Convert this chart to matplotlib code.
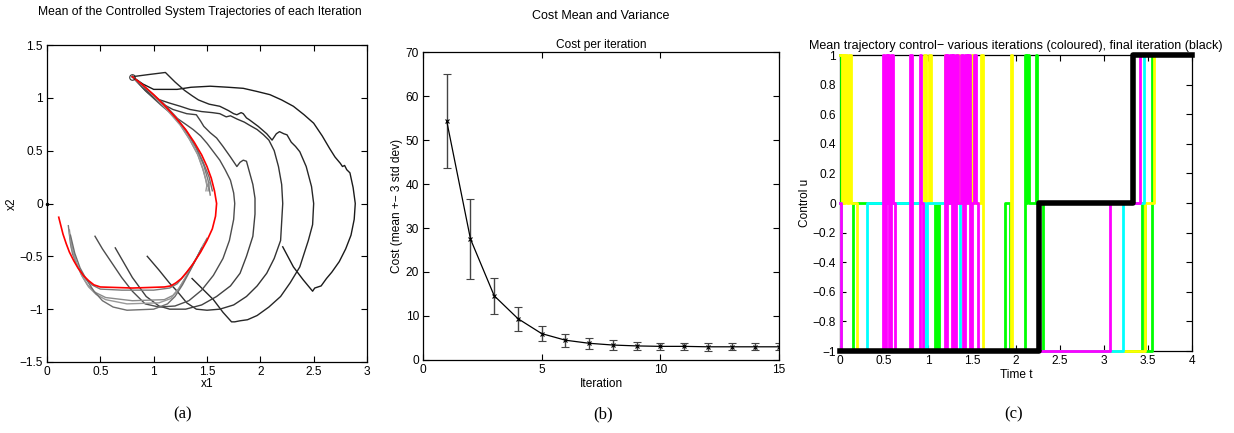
import numpy as np
import matplotlib
matplotlib.use('Agg')
import matplotlib.pyplot as plt

plt.rcParams['font.family'] = ['Liberation Sans', 'DejaVu Sans']
plt.rcParams['font.size'] = 8.6

# ---- panel (a): mean trajectories (x1, x2) per iteration ----
start_pt = (0.80, 1.20)

# dark trajectories, outer -> inner
traj_b = [(0.80, 1.20), (0.90, 1.13), (1.00, 1.08), (1.10, 1.08), (1.22, 1.08), (1.35, 1.10), (1.53, 1.11),
          (1.70, 1.10), (1.84, 1.09), (1.97, 1.06), (2.09, 1.03), (2.20, 0.98), (2.31, 0.92), (2.41, 0.84),
          (2.50, 0.76), (2.58, 0.64), (2.65, 0.52), (2.70, 0.44), (2.75, 0.38), (2.77, 0.35), (2.79, 0.36),
          (2.81, 0.32), (2.84, 0.29), (2.87, 0.15), (2.89, 0.00), (2.88, -0.15), (2.85, -0.30), (2.80, -0.43),
          (2.74, -0.55), (2.67, -0.65), (2.62, -0.71), (2.57, -0.78), (2.54, -0.79), (2.51, -0.80),
          (2.49, -0.83), (2.40, -0.72), (2.31, -0.60), (2.21, -0.41)]
traj_a = [(0.80, 1.20), (0.95, 1.22), (1.11, 1.24), (1.20, 1.15), (1.29, 1.07), (1.36, 1.02), (1.42, 0.98),
          (1.52, 0.94), (1.62, 0.92), (1.70, 0.88), (1.75, 0.85), (1.78, 0.84), (1.82, 0.86), (1.84, 0.85),
          (1.87, 0.81), (1.90, 0.79), (1.98, 0.73), (2.06, 0.66), (2.11, 0.60), (2.15, 0.66), (2.18, 0.68),
          (2.22, 0.66), (2.25, 0.65), (2.29, 0.58), (2.33, 0.54), (2.37, 0.49), (2.43, 0.35), (2.48, 0.16),
          (2.50, 0.00), (2.49, -0.20), (2.45, -0.35), (2.37, -0.60), (2.28, -0.75), (2.19, -0.88),
          (2.08, -0.98), (1.97, -1.06), (1.88, -1.10), (1.81, -1.11), (1.76, -1.12), (1.73, -1.12),
          (1.65, -1.03), (1.56, -0.91), (1.46, -0.81), (1.36, -0.71)]
traj_d = [(0.80, 1.20), (0.92, 1.08), (1.03, 0.99), (1.15, 0.95), (1.25, 0.92), (1.34, 0.89), (1.45, 0.87),
          (1.55, 0.86), (1.62, 0.85), (1.68, 0.82), (1.72, 0.83), (1.78, 0.80), (1.85, 0.77), (1.90, 0.74),
          (1.97, 0.70), (2.03, 0.65), (2.08, 0.60), (2.13, 0.50), (2.17, 0.35), (2.20, 0.18), (2.21, 0.00),
          (2.19, -0.35), (2.13, -0.52), (2.06, -0.66), (1.97, -0.78), (1.87, -0.88), (1.75, -0.96),
          (1.62, -1.00), (1.50, -1.01), (1.40, -1.00), (1.31, -0.94), (1.22, -0.83), (1.15, -0.755),
          (1.05, -0.63), (0.94, -0.50)]
traj_e = [(0.80, 1.20), (0.92, 1.07), (1.05, 0.96), (1.18, 0.89), (1.31, 0.85), (1.40, 0.84), (1.44, 0.78),
          (1.47, 0.73), (1.53, 0.67), (1.59, 0.62), (1.65, 0.54), (1.72, 0.44), (1.78, 0.35), (1.81, 0.39),
          (1.84, 0.41), (1.87, 0.40), (1.90, 0.29), (1.93, 0.18), (1.95, 0.05), (1.95, -0.10), (1.93, -0.31),
          (1.87, -0.50), (1.81, -0.66), (1.72, -0.78), (1.59, -0.88), (1.45, -0.96), (1.30, -1.00),
          (1.15, -1.00), (1.05, -0.97), (0.93, -0.88), (0.80, -0.70), (0.72, -0.56), (0.64, -0.42)]
traj_f = [(0.80, 1.20), (0.93, 1.06), (1.07, 0.93), (1.20, 0.82), (1.30, 0.75), (1.37, 0.70), (1.44, 0.64),
          (1.50, 0.57), (1.56, 0.49), (1.62, 0.41), (1.67, 0.32), (1.72, 0.22), (1.75, 0.10), (1.76, 0.00),
          (1.75, -0.15), (1.71, -0.35), (1.65, -0.52), (1.56, -0.68), (1.45, -0.82), (1.33, -0.92),
          (1.20, -0.97), (1.05, -0.98), (0.92, -0.95), (0.80, -0.83), (0.70, -0.70), (0.60, -0.55),
          (0.52, -0.43), (0.45, -0.31)]
dark_trajs = [traj_b, traj_a, traj_d, traj_e, traj_f]
dark_cols = ['#1a1a1a', '#262626', '#333333', '#404040', '#4d4d4d']

# later iterations (grey), drawn as upper and lower pieces
grey_upper = [
    [(0.80, 1.20), (0.95, 1.07), (1.10, 0.93), (1.22, 0.80), (1.32, 0.66), (1.40, 0.52), (1.47, 0.36),
     (1.51, 0.22), (1.53, 0.08)],
    [(0.80, 1.20), (0.96, 1.06), (1.12, 0.90), (1.24, 0.76), (1.33, 0.62), (1.41, 0.47), (1.46, 0.33),
     (1.49, 0.22), (1.50, 0.16), (1.52, 0.20), (1.51, 0.12)],
    [(0.80, 1.20), (0.97, 1.05), (1.13, 0.88), (1.25, 0.74), (1.34, 0.60), (1.42, 0.45), (1.47, 0.30),
     (1.50, 0.18), (1.49, 0.12)],
    [(0.80, 1.20), (0.94, 1.08), (1.09, 0.95), (1.21, 0.82), (1.31, 0.68), (1.39, 0.55), (1.46, 0.40),
     (1.52, 0.25), (1.55, 0.12)],
]
grey_lower = [
    [(1.50, -0.33), (1.43, -0.47), (1.35, -0.60), (1.28, -0.69), (1.22, -0.76), (1.15, -0.80),
     (1.00, -0.82), (0.70, -0.82), (0.50, -0.81), (0.42, -0.77), (0.35, -0.70), (0.29, -0.60),
     (0.24, -0.48), (0.22, -0.38), (0.20, -0.21)],
    [(1.49, -0.35), (1.40, -0.52), (1.30, -0.70), (1.24, -0.80), (1.18, -0.87), (1.10, -0.91),
     (0.80, -0.92), (0.55, -0.89), (0.45, -0.84), (0.38, -0.77), (0.32, -0.67), (0.27, -0.55),
     (0.23, -0.42), (0.21, -0.25)],
    [(1.47, -0.38), (1.38, -0.56), (1.28, -0.73), (1.22, -0.83), (1.16, -0.90), (1.05, -0.94),
     (0.75, -0.95), (0.55, -0.91), (0.46, -0.86), (0.39, -0.79), (0.33, -0.69), (0.28, -0.57),
     (0.24, -0.43), (0.21, -0.28)],
    [(1.45, -0.42), (1.35, -0.62), (1.27, -0.77), (1.20, -0.88), (1.13, -0.95), (1.00, -1.00),
     (0.75, -1.01), (0.62, -0.98), (0.52, -0.92), (0.44, -0.83), (0.37, -0.72), (0.31, -0.61),
     (0.26, -0.47), (0.22, -0.30)],
]
grey_cols = ['#7a7a7a', '#8a8a8a', '#999999', '#6e6e6e']

# final iteration (red)
traj_final = [(0.80, 1.20), (0.90, 1.12), (1.00, 1.03), (1.10, 0.93), (1.20, 0.82), (1.30, 0.70),
              (1.38, 0.58), (1.45, 0.46), (1.50, 0.35), (1.54, 0.24), (1.57, 0.12), (1.59, 0.00),
              (1.58, -0.12), (1.55, -0.24), (1.50, -0.35), (1.44, -0.46), (1.37, -0.57), (1.31, -0.65),
              (1.26, -0.71), (1.21, -0.75), (1.16, -0.78), (1.10, -0.79), (0.80, -0.80), (0.50, -0.79),
              (0.44, -0.77), (0.39, -0.73), (0.34, -0.68), (0.29, -0.61), (0.25, -0.54), (0.21, -0.46),
              (0.18, -0.38), (0.15, -0.29), (0.13, -0.21), (0.11, -0.13)]

# ---- panel (b): cost per iteration ----
iterations = np.arange(1, 16)
cost_mean = [54.3, 27.5, 14.6, 9.4, 6.0, 4.5, 3.8, 3.4, 3.2, 3.1, 3.1, 3.0, 3.0, 3.0, 3.0]
cost_err = [10.7, 9.0, 4.1, 2.7, 1.65, 1.5, 1.2, 1.1, 0.9, 0.85, 0.85, 0.85, 0.8, 0.8, 0.8]

# ---- panel (c): control signals (step functions) ----
green_t = [0.00, 0.01, 0.15, 1.08, 1.10, 1.13, 1.87, 1.93, 2.10, 2.11, 2.13, 2.15, 2.23, 2.24, 2.31,
           3.43, 3.47, 3.54, 4.00]
green_u = [1, -1, 0, -1, 0, -1, 0, -1, 1, 0, 1, 0, 1, 0, -1, 0, -1, 1, 1]
yellow_t = [0.00, 0.02, 0.03, 0.05, 0.06, 0.08, 0.10, 0.12, 0.19, 0.96, 0.98, 1.01, 1.03, 1.19, 1.21,
            1.33, 1.35, 1.50, 1.51, 1.60, 1.63, 1.94, 1.96, 3.47, 3.57, 4.00]
yellow_u = [1, 0, 1, 0, 1, 0, 1, 0, -1, 1, 0, 1, 0, 1, 0, 1, 0, 1, 0, 1, -1, 1, -1, 0, 1, 1]
cyan_t = [0.00, 0.01, 0.31, 0.97, 0.99, 1.36, 3.22, 3.46, 4.00]
cyan_u = [0, -1, 0, -1, 0, -1, 0, 1, 1]
magenta_t = [0.00, 0.01, 0.49, 0.50, 0.52, 0.53, 0.55, 0.56, 0.58, 0.60, 0.62, 0.80, 0.82, 0.91, 0.92,
             0.94, 1.19, 1.20, 1.22, 1.23, 1.25, 1.27, 1.28, 1.30, 1.32, 1.34, 1.37, 1.40, 1.42, 1.44,
             1.46, 1.48, 1.50, 1.52, 1.55, 1.57, 3.07, 3.41, 4.00]
magenta_u = [0, -1, 1, -1, 1, 0, 1, -1, 1, 0, -1, 1, -1, 1, 0, -1, 1, -1, 1, 0, 1, -1, 1, -1, 1, 0, 1,
             -1, 1, 0, 1, -1, 0, 1, 0, -1, 0, 1, 1]
final_t = [0.00, 2.26, 3.33, 4.00]
final_u = [-1, 0, 1, 1]


def matlab_axes(ax):
    ax.tick_params(direction='in', top=True, right=True, length=4, width=0.8, pad=3, labelsize=8.6)
    for s in ax.spines.values():
        s.set_linewidth(0.9)


fig = plt.figure(figsize=(12.34, 4.33), dpi=100)
W, H = 1234.0, 433.0


def place(l, t, r, b):
    return [l / W, 1 - b / H, (r - l) / W, (b - t) / H]


# (a)
ax1 = fig.add_axes(place(47, 45, 367, 362))
for tr, c in zip(dark_trajs, dark_cols):
    xs, ys = zip(*tr)
    ax1.plot(xs, ys, color=c, lw=1.0)
for tr, c in zip(grey_upper, grey_cols):
    xs, ys = zip(*tr)
    ax1.plot(xs, ys, color=c, lw=1.0)
for tr, c in zip(grey_lower, grey_cols):
    xs, ys = zip(*tr)
    ax1.plot(xs, ys, color=c, lw=1.0)
xs, ys = zip(*traj_final)
ax1.plot(xs, ys, color='#ff0000', lw=1.2)
ax1.plot([start_pt[0]], [start_pt[1]], 'o', mfc='none', mec='#333333', ms=4, mew=0.8)
ax1.plot([0], [0], marker='.', color='k', ms=3, clip_on=False)
ax1.set_xlim(0, 3)
ax1.set_ylim(-1.5, 1.5)
ax1.set_xticks(np.arange(0, 3.01, 0.5))
ax1.set_xticklabels(['0', '0.5', '1', '1.5', '2', '2.5', '3'])
ax1.set_yticks(np.arange(-1.5, 1.51, 0.5))
ax1.set_yticklabels(['\u22121.5', '\u22121', '\u22120.5', '0', '0.5', '1', '1.5'])
ax1.set_xlabel('x1', labelpad=0)
ax1.set_ylabel('x2', labelpad=1)
matlab_axes(ax1)
fig.text(200 / W, 1 - 12 / H, 'Mean of the Controlled System Trajectories of each Iteration',
         ha='center', va='center', fontsize=8.7)

# (b)
ax2 = fig.add_axes(place(423, 52, 779, 360))
ax2.errorbar(iterations, cost_mean, yerr=cost_err, color='k', lw=0.9, marker='x', ms=3, mew=0.8,
             ecolor='#444444', elinewidth=1.0, capsize=3, capthick=1.0)
ax2.set_xlim(0, 15)
ax2.set_ylim(0, 70)
ax2.set_xticks([0, 5, 10, 15])
ax2.set_yticks(np.arange(0, 71, 10))
ax2.set_xlabel('Iteration', labelpad=1)
ax2.set_ylabel('Cost (mean +\u2212 3 std dev)', labelpad=2)
ax2.set_title('Cost per iteration', fontsize=8.6, pad=3)
matlab_axes(ax2)
fig.text(601 / W, 1 - 16 / H, 'Cost Mean and Variance', ha='center', va='center', fontsize=9)

# (c)
ax3 = fig.add_axes(place(840, 55, 1192, 351))
step_kw = dict(where='post', lw=2.0, clip_on=False, zorder=3)
ax3.step(green_t, green_u, color='#00ff00', **step_kw)
ax3.step(yellow_t, yellow_u, color='#ffff00', **step_kw)
ax3.step(cyan_t, cyan_u, color='#00ffff', **step_kw)
ax3.step(magenta_t, magenta_u, color='#ff00ff', **step_kw)
ax3.step(final_t, final_u, where='post', color='k', lw=4.0, clip_on=False, zorder=4)
ax3.set_xlim(0, 4)
ax3.set_ylim(-1, 1)
ax3.set_xticks(np.arange(0, 4.01, 0.5))
ax3.set_xticklabels(['0', '0.5', '1', '1.5', '2', '2.5', '3', '3.5', '4'])
ax3.set_yticks(np.round(np.arange(-1, 1.01, 0.2), 1))
ax3.set_yticklabels(['\u22121', '\u22120.8', '\u22120.6', '\u22120.4', '\u22120.2', '0',
                     '0.2', '0.4', '0.6', '0.8', '1'])
ax3.set_xlabel('Time t', labelpad=1)
ax3.set_ylabel('Control u', labelpad=1)
ax3.set_title('Mean trajectory control\u2212 various iterations (coloured), final iteration (black)',
              fontsize=9.0, pad=4)
matlab_axes(ax3)

# sub-figure letters
for x, s in [(183, '(a)'), (603, '(b)'), (1014, '(c)')]:
    fig.text(x / W, 1 - 414 / H, s, ha='center', va='center', fontsize=12,
             family=['Liberation Serif', 'DejaVu Serif'])

fig.savefig('out.png', dpi=100)
